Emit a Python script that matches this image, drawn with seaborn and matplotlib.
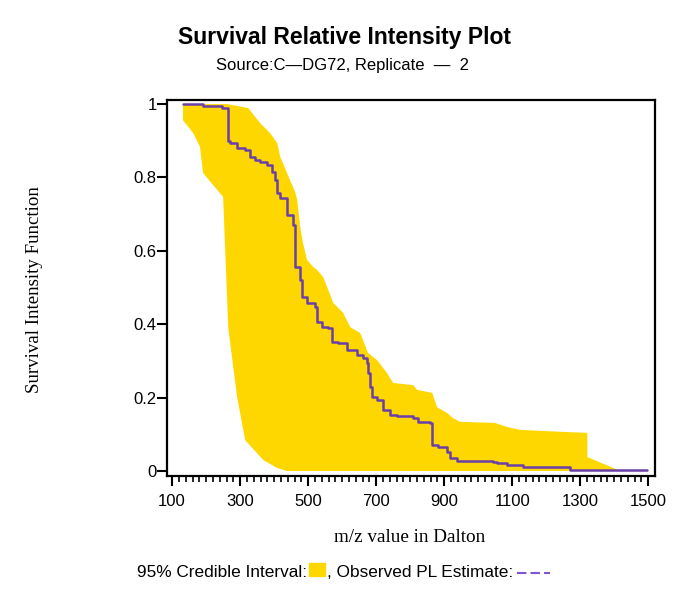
import numpy as np
import pandas as pd
import matplotlib
matplotlib.use("Agg")
import matplotlib.pyplot as plt
import seaborn as sns
from matplotlib.patches import Rectangle
from matplotlib.lines import Line2D

# ---- data ----
est_x = [132, 191, 247, 265, 271, 291, 315, 329, 344, 359, 379, 394, 403, 409, 418,
         438, 456, 462, 476, 482, 497, 521, 526, 541, 559, 571, 588, 615, 644, 662,
         674, 676, 682, 688, 703, 721, 741, 762, 809, 824, 859, 865, 882, 909, 918,
         938, 1044, 1056, 1085, 1132, 1271, 1497]
est_y = [1.0, 0.995, 0.988, 0.90, 0.894, 0.880, 0.875, 0.856, 0.847, 0.842, 0.834,
         0.815, 0.793, 0.757, 0.744, 0.698, 0.670, 0.556, 0.520, 0.474, 0.458, 0.447,
         0.406, 0.392, 0.390, 0.351, 0.349, 0.330, 0.316, 0.308, 0.294, 0.267, 0.229,
         0.202, 0.193, 0.166, 0.153, 0.150, 0.144, 0.134, 0.131, 0.071, 0.065, 0.052,
         0.035, 0.027, 0.025, 0.022, 0.016, 0.011, 0.003, 0.003]

upper_x = [132, 262, 324, 359, 388, 409, 418, 438, 462, 468, 476, 485, 497, 515, 526,
           544, 556, 574, 603, 624, 653, 676, 703, 732, 750, 809, 821, 865, 879, 909,
           926, 947, 1050, 1085, 1124, 1265, 1321, 1321, 1418]
upper_y = [1.0, 1.0, 0.989, 0.948, 0.921, 0.894, 0.856, 0.812, 0.76, 0.738, 0.67,
           0.62, 0.575, 0.556, 0.548, 0.529, 0.501, 0.458, 0.431, 0.392, 0.376, 0.322,
           0.302, 0.267, 0.240, 0.234, 0.221, 0.213, 0.174, 0.158, 0.144, 0.134, 0.131,
           0.120, 0.112, 0.106, 0.104, 0.038, 0.0]

lower_x = [132, 162, 182, 191, 250, 265, 291, 315, 368, 409, 438, 1418]
lower_y = [0.956, 0.921, 0.883, 0.812, 0.747, 0.392, 0.202, 0.084, 0.030, 0.008, 0.0, 0.0]

x_ticks = [100, 300, 500, 700, 900, 1100, 1300, 1500]
y_ticks = [0, 0.2, 0.4, 0.6, 0.8, 1]
y_tick_labels = ["0", "0.2", "0.4", "0.6", "0.8", "1"]

title = "Survival Relative Intensity Plot"
subtitle = "Source:C\u2014DG72, Replicate  \u2014  2"
x_label = "m/z value in Dalton"
y_label = "Survival Intensity Function"
legend_band_text = "95% Credible Interval:"
legend_line_text = ", Observed PL Estimate:"

band_color = "#FFD700"
line_color = "#6A3FA8"
legend_line_color = "#7B55D0"

# ---- drawing ----
sns.set_style("ticks")
plt.rcParams["font.family"] = ["Liberation Sans", "DejaVu Sans"]
for k in ["text.color", "axes.labelcolor", "xtick.color", "ytick.color"]:
    plt.rcParams[k] = "black"

fig = plt.figure(figsize=(6.85, 5.93), dpi=100)
ax = fig.add_axes([0.2438, 0.1973, 0.7124, 0.634])

poly_x = list(upper_x) + list(lower_x[::-1])
poly_y = list(upper_y) + list(lower_y[::-1])
ax.fill(poly_x, poly_y, color=band_color, lw=0, zorder=1)

df = pd.DataFrame({"mz": est_x, "surv": est_y})
sns.lineplot(data=df, x="mz", y="surv", drawstyle="steps-post", estimator=None,
             color=line_color, lw=1.8, ax=ax, zorder=3)

ax.set_xlim(85, 1520)
ax.set_ylim(-0.0136, 1.011)
ax.set_xticks(x_ticks)
ax.set_xticks(np.arange(100, 1501, 20), minor=True)
ax.set_yticks(y_ticks)
ax.set_yticklabels(y_tick_labels)
ax.set_xlabel("")
ax.set_ylabel("")
for s in ax.spines.values():
    s.set_visible(True)
    s.set_linewidth(1.6)
    s.set_color("black")
ax.tick_params(axis="both", which="major", length=7, width=1.5, labelsize=12,
               colors="black")
ax.tick_params(axis="x", which="major", pad=6)
ax.tick_params(axis="y", which="major", pad=0.5)
ax.tick_params(axis="x", which="minor", length=4, width=1.2)
ax.tick_params(axis="y", which="minor", length=0)

fig.text(0.503, 0.936, title, ha="center", va="center", fontsize=16.5,
         fontweight="bold")
fig.text(0.5007, 0.890, subtitle, ha="center", va="center", fontsize=12)
fig.text(0.051, 0.511, y_label, rotation=90, ha="center", va="center",
         fontsize=13.6, family=["Liberation Serif", "DejaVu Serif"])
fig.text(0.5985, 0.0944, x_label, ha="center", va="center", fontsize=13.8,
         family=["Liberation Serif", "DejaVu Serif"])

# custom legend row
fig.canvas.draw()
renderer = fig.canvas.get_renderer()
W, H = fig.get_size_inches() * fig.dpi
yl = 1 - 572.5 / 593
t1 = fig.text(137 / W, yl, legend_band_text, ha="left", va="center",
              fontsize=12.4)
bb = t1.get_window_extent(renderer)
x = bb.x1 + 2
fig.patches.append(Rectangle((x / W, (593 - 576) / H), 16 / W, 13 / H,
                             transform=fig.transFigure, color=band_color,
                             figure=fig))
x += 18
t2 = fig.text(x / W, yl, legend_line_text, ha="left", va="center",
              fontsize=12.4)
bb2 = t2.get_window_extent(renderer)
x2 = bb2.x1 + 4
fig.lines.append(Line2D([x2 / W, (x2 + 33) / W], [yl, yl], transform=fig.transFigure,
                        color=legend_line_color, lw=1.5, ls=(0, (4.5, 2)),
                        figure=fig))

fig.savefig("out.png", dpi=100)
